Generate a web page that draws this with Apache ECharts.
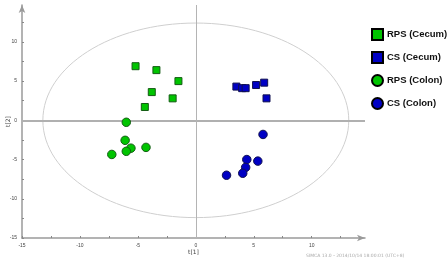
<!DOCTYPE html>
<html>
<head>
<meta charset="utf-8">
<script src="https://cdn.jsdelivr.net/npm/echarts@6/dist/echarts.min.js"></script>
<style>
  html, body { margin: 0; padding: 0; background: #fff; }
  #chart { width: 448px; height: 261px; }
</style>
</head>
<body>
<div id="chart"></div>
<script>
// score values, [t1, t2]
const rpsCecum = [[-5.2, 6.9], [-3.4, 6.4], [-3.8, 3.6], [-1.5, 5.0], [-2.0, 2.8], [-4.4, 1.7]]
const csCecum = [[3.5, 4.3], [4.0, 4.1], [4.3, 4.1], [5.2, 4.5], [5.9, 4.8], [6.1, 2.8]]
const rpsColon = [[-6.0, -0.25], [-6.1, -2.55], [-5.6, -3.55], [-6.0, -3.95], [-4.3, -3.45], [-7.25, -4.35]]
const csColon = [[5.8, -1.8], [4.4, -5.0], [5.35, -5.2], [4.3, -6.0], [4.05, -6.75], [2.65, -7.0]]

const seriesNames = ['RPS (Cecum)', 'CS (Cecum)', 'RPS (Colon)', 'CS (Colon)']
const tickLabels = [-15, -10, -5, 0, 5, 10]
// Hotelling T2 ellipse (semi axes in score units)
const ellipseAxes = [13.2, 12.4]

const green = '#00c400'
const blue = '#0000c4'

const chart = echarts.init(document.getElementById('chart'))

function axisOpt(name, max) {
  return {
    type: 'value',
    min: -15,
    max: max,
    interval: 2.5,
    name: name,
    nameLocation: 'middle',
    nameGap: 11,
    nameMoveOverlap: false,
    nameTextStyle: { fontSize: 6, color: '#444', fontFamily: 'DejaVu Sans' },
    splitLine: { show: false },
    axisLine: {
      onZero: false,
      symbol: ['none', 'arrow'],
      symbolSize: [5, 8],
      lineStyle: { color: '#9a9a9a', width: 1.5 }
    },
    axisTick: { length: 2, inside: true, lineStyle: { color: '#888' } },
    axisLabel: {
      fontSize: 5,
      color: '#444',
      margin: 5,
      showMaxLabel: false,
      formatter: function (v) {
        return tickLabels.indexOf(v) >= 0 ? String(v) : ''
      }
    }
  }
}

const scatterSeries = [
  { name: seriesNames[0], data: rpsCecum, symbol: 'rect', size: 7, color: green, border: '#145c14' },
  { name: seriesNames[1], data: csCecum, symbol: 'rect', size: 7, color: blue, border: '#101050' },
  { name: seriesNames[2], data: rpsColon, symbol: 'circle', size: 8.5, color: green, border: '#145c14' },
  { name: seriesNames[3], data: csColon, symbol: 'circle', size: 8.5, color: blue, border: '#101050' }
].map(function (s) {
  return {
    name: s.name,
    type: 'scatter',
    data: s.data,
    symbol: s.symbol,
    symbolSize: s.size,
    z: 5,
    itemStyle: { color: s.color, borderColor: s.border, borderWidth: 1, opacity: 1 }
  }
})

const option = {
  animation: false,
  grid: { left: 22, right: 83, top: 5, bottom: 23, containLabel: false, outerBoundsMode: 'none' },
  xAxis: axisOpt('t[1]', 14.6),
  yAxis: Object.assign(axisOpt('t[2]', 14.7), { nameRotate: 90 }),
  legend: {
    orient: 'vertical',
    left: 366,
    top: 23,
    itemWidth: 11,
    itemHeight: 11,
    itemGap: 10,
    textStyle: { fontSize: 9.5, fontWeight: 'bold', color: '#111', fontFamily: 'Liberation Sans', padding: [0, 0, 0, -1] },
    data: [
      { name: seriesNames[0], icon: 'rect', itemStyle: { color: green, borderColor: '#000', borderWidth: 2 } },
      { name: seriesNames[1], icon: 'rect', itemStyle: { color: blue, borderColor: '#000', borderWidth: 2 } },
      { name: seriesNames[2], icon: 'circle', itemStyle: { color: green, borderColor: '#000', borderWidth: 2 } },
      { name: seriesNames[3], icon: 'circle', itemStyle: { color: blue, borderColor: '#000', borderWidth: 2 } }
    ]
  },
  graphic: [{
    type: 'text',
    left: 306,
    bottom: 3,
    style: { text: 'SIMCA 13.0 - 2014/10/14 18:00:01 (UTC+8)', fontSize: 4.5, fill: '#aaa', fontFamily: 'DejaVu Sans' }
  }],
  series: [
    {
      type: 'custom',
      silent: true,
      z: 1,
      data: [[0, 0]],
      renderItem: function (params, api) {
        const c = api.coord([0, 0])
        const rx = api.size([ellipseAxes[0], 0])[0]
        const ry = api.size([0, ellipseAxes[1]])[1]
        return {
          type: 'ellipse',
          shape: { cx: c[0], cy: c[1], rx: rx, ry: ry },
          style: { fill: 'none', stroke: '#cfcfcf', lineWidth: 1 }
        }
      }
    },
    {
      type: 'line',
      data: [],
      silent: true,
      z: 2,
      markLine: {
        symbol: 'none',
        silent: true,
        label: { show: false },
        data: [
          { yAxis: 0, lineStyle: { color: '#b0b0b0', width: 2, type: 'solid' } },
          { xAxis: 0, lineStyle: { color: '#b4b4b4', width: 1, type: 'solid' } }
        ]
      }
    }
  ].concat(scatterSeries)
}

chart.setOption(option)
</script>
</body>
</html>
